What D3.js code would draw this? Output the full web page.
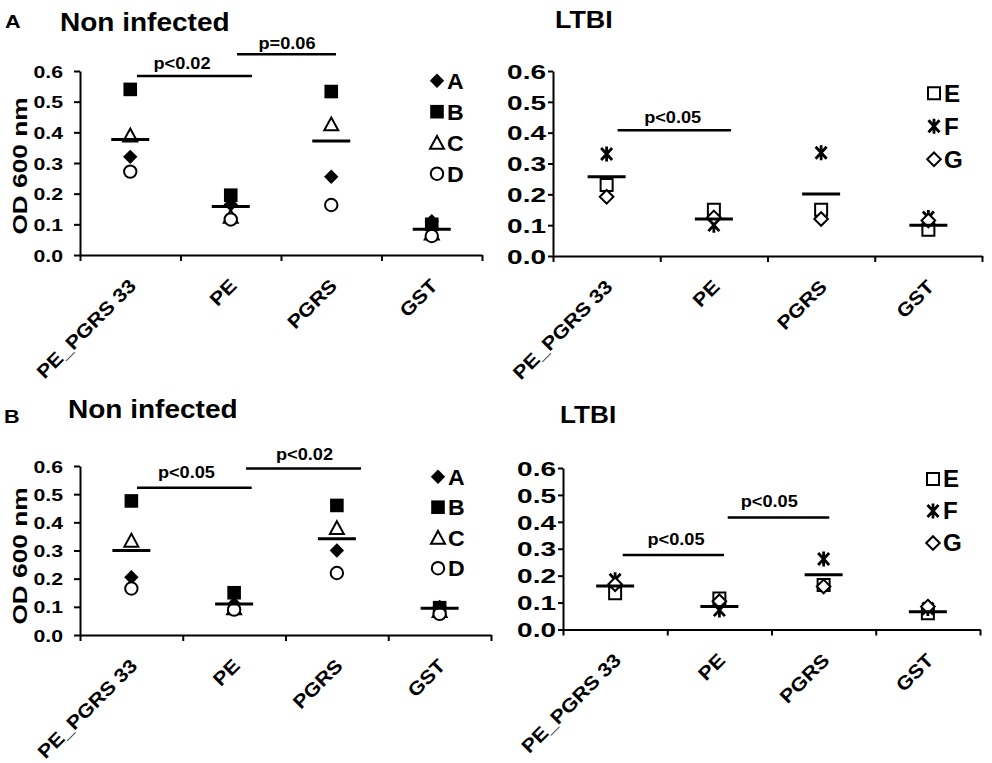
<!DOCTYPE html>
<html>
<head>
<meta charset="utf-8">
<script src="https://cdn.jsdelivr.net/npm/d3@7"></script>
<style>
  body { margin: 0; background: #fff; }
  svg { display: block; font-family: "Liberation Sans", Arial, sans-serif; font-weight: bold; }
</style>
</head>
<body>
<div id="chart"></div>
<script>
// ---- data ----
const categories = ["PE_PGRS 33", "PE", "PGRS", "GST"];
const yTicks = [0, 0.1, 0.2, 0.3, 0.4, 0.5, 0.6];
const nonInfectedDonors = ["A", "B", "C", "D"];
const ltbiDonors = ["E", "F", "G"];

// Panel A, non infected
const aNonA = [0.32, 0.165, 0.255, 0.11];
const aNonB = [0.54, 0.195, 0.533, 0.10];
const aNonC = [0.39, 0.125, 0.426, 0.07];
const aNonD = [0.272, 0.116, 0.163, 0.062];
const aNonMean = [0.377, 0.158, 0.372, 0.084];

// Panel A, LTBI
const aLtbiE = [0.23, 0.15, 0.15, 0.085];
const aLtbiF = [0.331, 0.10, 0.335, 0.125];
const aLtbiG = [0.192, 0.125, 0.12, 0.115];
const aLtbiMean = [0.257, 0.12, 0.201, 0.10];

// Panel B, non infected
const bNonA = [0.205, 0.11, 0.30, 0.10];
const bNonB = [0.476, 0.15, 0.46, 0.097];
const bNonC = [0.335, 0.095, 0.38, 0.085];
const bNonD = [0.165, 0.09, 0.22, 0.075];
const bNonMean = [0.30, 0.11, 0.342, 0.095];

// Panel B, LTBI
const bLtbiE = [0.135, 0.115, 0.165, 0.06];
const bLtbiF = [0.185, 0.072, 0.262, 0.078];
const bLtbiG = [0.168, 0.105, 0.16, 0.085];
const bLtbiMean = [0.162, 0.085, 0.203, 0.066];

// significance bars: from/to in category units (0..4), y in OD units
const aNonSig = [
  { label: "p<0.02", from: 0.567, to: 1.711, y: 0.584, tx: 1.015, ty: 0.606 },
  { label: "p=0.06", from: 1.562, to: 2.547, y: 0.655, tx: 2.06, ty: 0.671 }
];
const aLtbiSig = [
  { label: "p<0.05", from: 0.603, to: 1.66, y: 0.408, tx: 1.116, ty: 0.432 }
];
const bNonSig = [
  { label: "p<0.05", from: 0.555, to: 1.671, y: 0.523, tx: 1.036, ty: 0.557 },
  { label: "p<0.02", from: 1.616, to: 2.735, y: 0.591, tx: 2.185, ty: 0.623 }
];
const bLtbiSig = [
  { label: "p<0.05", from: 0.573, to: 1.544, y: 0.277, tx: 1.084, ty: 0.314 },
  { label: "p<0.05", from: 1.58, to: 2.554, y: 0.416, tx: 1.979, ty: 0.454 }
];

// ---- marker shapes per donor ----
const markerStyle = {
  A: { path: "M0,-7.2L7.2,0L0,7.2L-7.2,0Z", fill: "#000", stroke: "none" },
  B: { path: "M-6.8,-6.8H6.8V6.8H-6.8Z", fill: "#000", stroke: "none" },
  C: { path: "M0,-6.8L7,6H-7Z", fill: "#fff", stroke: "#000" },
  D: { path: "M6.2,0A6.2,6.2 0 1,1 -6.2,0A6.2,6.2 0 1,1 6.2,0Z", fill: "#fff", stroke: "#000" },
  E: { path: "M-6,-6H6V6H-6Z", fill: "#fff", stroke: "#000" },
  F: { path: "M-5.5,-6L5.5,6M5.5,-6L-5.5,6M0,-7.5V7.5", fill: "none", stroke: "#000", sw: 2.8 },
  G: { path: "M0,-6.8L6.8,0L0,6.8L-6.8,0Z", fill: "#fff", stroke: "#000" }
};

// stretch text along its own direction (the figure's lettering is wide);
// anchoring is done by hand so the stretched run still ends where it should
function stretch(sel, k) {
  sel.each(function() {
    const t = d3.select(this);
    const anchor = window.getComputedStyle(this).textAnchor;
    const w = this.getComputedTextLength() * k;
    const x0 = +t.attr("x") || 0;
    const shift = anchor === "end" ? w : anchor === "middle" ? w / 2 : 0;
    t.attr("text-anchor", "start")
      .attr("x", x0 - shift)
      .attr("textLength", w)
      .attr("lengthAdjust", "spacingAndGlyphs");
  });
}

const svg = d3.select("#chart").append("svg")
  .attr("width", 992)
  .attr("height", 763);

function drawPanel(p) {
  const x = d3.scaleBand().domain(categories).range([p.x0, p.x1]).padding(0);
  const xPos = d3.scaleLinear().domain([0, categories.length]).range([p.x0, p.x1]);
  const y = d3.scaleLinear().domain([0, 0.6]).range([p.yBottom, p.yTop]);
  const g = svg.append("g");

  // y axis
  const ya = g.append("g")
    .attr("transform", `translate(${p.x0},0)`)
    .call(d3.axisLeft(y).tickValues(yTicks).tickFormat(d3.format(".1f"))
      .tickSize(p.tickLen).tickSizeOuter(0).tickPadding(p.tickPad));
  ya.selectAll("text").style("font-size", p.tickFont + "px").style("fill", "#000")
    .attr("dy", "0.36em").call(stretch, p.tickK);

  // x axis, ticks at category boundaries
  g.append("g")
    .attr("transform", `translate(0,${p.yBottom})`)
    .call(d3.axisBottom(xPos).tickValues(d3.range(categories.length + 1)).tickFormat("")
      .tickSize(6).tickSizeOuter(0));

  g.selectAll(".domain, .tick line").style("stroke", "#000").style("stroke-width", 2);

  // rotated category labels
  g.selectAll(".cat-label")
    .data(categories)
    .enter()
    .append("text")
    .attr("class", "cat-label")
    .attr("text-anchor", "end")
    .attr("transform", d => `translate(${x(d) + x.bandwidth() / 2 + 7},${p.yBottom + 32}) rotate(-45)`)
    .style("font-size", "19px")
    .text(d => d)
    .call(stretch, 1.13);

  // data markers
  p.donors.forEach((name, si) => {
    const st = markerStyle[name];
    g.selectAll(".pt-" + name)
      .data(p.values[si])
      .enter()
      .append("path")
      .attr("class", "pt-" + name)
      .attr("transform", (d, i) => `translate(${x(categories[i]) + x.bandwidth() / 2},${y(d)})`)
      .attr("d", st.path)
      .attr("fill", st.fill)
      .attr("stroke", st.stroke)
      .attr("stroke-width", st.sw || 2);
  });

  // mean bars
  g.selectAll(".mean")
    .data(p.means)
    .enter()
    .append("line")
    .attr("class", "mean")
    .attr("x1", (d, i) => x(categories[i]) + x.bandwidth() / 2 - 19)
    .attr("x2", (d, i) => x(categories[i]) + x.bandwidth() / 2 + 19)
    .attr("y1", d => y(d))
    .attr("y2", d => y(d))
    .attr("stroke", "#000")
    .attr("stroke-width", 3);

  // significance bars
  p.sig.forEach(s => {
    g.append("line")
      .attr("x1", xPos(s.from)).attr("x2", xPos(s.to))
      .attr("y1", y(s.y)).attr("y2", y(s.y))
      .attr("stroke", "#000").attr("stroke-width", 2.5);
    g.append("text")
      .attr("x", xPos(s.tx)).attr("y", y(s.ty))
      .attr("text-anchor", "middle")
      .style("font-size", "16.5px")
      .text(s.label)
      .call(stretch, 1.1);
  });

  // legend
  p.donors.forEach((name, i) => {
    const st = markerStyle[name];
    const ly = p.legendY + i * p.legendDy;
    g.append("path")
      .attr("transform", `translate(${p.legendX},${ly})`)
      .attr("d", st.path)
      .attr("fill", st.fill)
      .attr("stroke", st.stroke)
      .attr("stroke-width", st.sw || 2);
    g.append("text")
      .attr("x", p.legendX + 10)
      .attr("y", ly)
      .attr("dy", "0.36em")
      .style("font-size", p.legendFont + "px")
      .text(name)
      .call(stretch, 1.05);
  });

  // y axis title (left panels only)
  if (p.yTitle) {
    g.append("text")
      .attr("text-anchor", "middle")
      .attr("transform", `translate(27,${p.yTitleY}) rotate(-90)`)
      .style("font-size", "21px")
      .text("OD 600 nm")
      .call(stretch, 1.25);
  }

  // panel title
  g.append("text")
    .attr("x", p.titleX).attr("y", p.titleY)
    .style("font-size", p.titleFont + "px")
    .text(p.title)
    .call(stretch, p.titleK);

  if (p.letter) {
    g.append("text")
      .attr("x", p.letterX).attr("y", p.letterY)
      .style("font-size", "18px")
      .text(p.letter)
      .call(stretch, 1.2);
  }
}

const panels = [
  { title: "Non infected", titleX: 60, titleY: 31, titleFont: 25, titleK: 1.12,
    letter: "A", letterX: 5, letterY: 28,
    x0: 80, x1: 482, yTop: 71, yBottom: 255,
    tickFont: 17, tickK: 1.25, tickLen: 6, tickPad: 11,
    donors: nonInfectedDonors, values: [aNonA, aNonB, aNonC, aNonD], means: aNonMean, sig: aNonSig,
    legendX: 437, legendY: 80.7, legendDy: 31, legendFont: 22,
    yTitle: true, yTitleY: 166 },
  { title: "LTBI", titleX: 555, titleY: 28, titleFont: 24, titleK: 1.12,
    x0: 553, x1: 982, yTop: 71, yBottom: 256,
    tickFont: 20, tickK: 1.4, tickLen: 5, tickPad: 2,
    donors: ltbiDonors, values: [aLtbiE, aLtbiF, aLtbiG], means: aLtbiMean, sig: aLtbiSig,
    legendX: 934, legendY: 93.3, legendDy: 33, legendFont: 23 },
  { title: "Non infected", titleX: 68, titleY: 418, titleFont: 25, titleK: 1.12,
    letter: "B", letterX: 4, letterY: 423,
    x0: 80, x1: 491, yTop: 466, yBottom: 635,
    tickFont: 17, tickK: 1.25, tickLen: 6, tickPad: 11,
    donors: nonInfectedDonors, values: [bNonA, bNonB, bNonC, bNonD], means: bNonMean, sig: bNonSig,
    legendX: 438, legendY: 476.7, legendDy: 30.5, legendFont: 22,
    yTitle: true, yTitleY: 556 },
  { title: "LTBI", titleX: 560, titleY: 423, titleFont: 24, titleK: 1.09,
    x0: 563, x1: 980, yTop: 468, yBottom: 629.5,
    tickFont: 20, tickK: 1.4, tickLen: 5, tickPad: 2,
    donors: ltbiDonors, values: [bLtbiE, bLtbiF, bLtbiG], means: bLtbiMean, sig: bLtbiSig,
    legendX: 933, legendY: 479, legendDy: 32, legendFont: 23 }
];

panels.forEach(drawPanel);
</script>
</body>
</html>
